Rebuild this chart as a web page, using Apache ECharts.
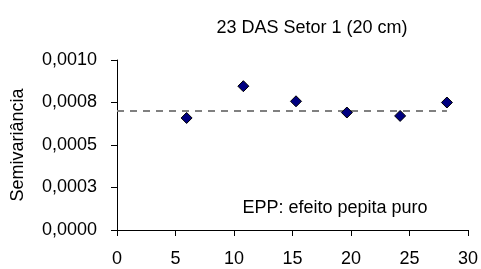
<!DOCTYPE html>
<html>
<head>
<meta charset="utf-8">
<script src="https://cdn.jsdelivr.net/npm/echarts@6/dist/echarts.min.js"></script>
<style>html,body{margin:0;padding:0;background:#fff;}#c{width:481px;height:269px;}</style>
</head>
<body>
<div id="c"></div>
<script>
var titleText = '23 DAS Setor 1 (20 cm)';
var yAxisName = 'Semivariância';
var noteText = 'EPP: efeito pepita puro';
var lagDistance = [5.95, 10.8, 15.3, 19.65, 24.2, 28.2];
var semivariance = [0.000659, 0.000846, 0.000757, 0.000691, 0.000671, 0.000750];
var nuggetLineX = [0, 28.2];
var nuggetValue = 0.0007;
var yTickLabels = ['0,0000', '0,0003', '0,0005', '0,0008', '0,0010'];
var xTickLabels = ['0', '5', '10', '15', '20', '25', '30'];

var FONT = 'Liberation Sans, Arial, sans-serif';
var chart = echarts.init(document.getElementById('c'), null, {renderer: 'canvas'});
chart.setOption({
  animation: false,
  backgroundColor: '#ffffff',
  grid: {left: 117, right: 13, top: 60, bottom: 39, containLabel: false},
  xAxis: {
    type: 'value', min: 0, max: 30, interval: 5,
    axisLine: {show: true, lineStyle: {color: '#000', width: 1}},
    axisTick: {show: true, length: 6, lineStyle: {color: '#000'}},
    splitLine: {show: false},
    axisLabel: {
      margin: 20, color: '#000', fontFamily: FONT, fontSize: 18,
      formatter: function (v) { return xTickLabels[Math.round(v / 5)]; }
    }
  },
  yAxis: {
    type: 'value', min: 0, max: 0.001, interval: 0.00025,
    name: yAxisName, nameLocation: 'middle', nameGap: 90, nameRotate: 90,
    nameTextStyle: {fontFamily: FONT, fontSize: 18, color: '#000'},
    axisLine: {show: true, lineStyle: {color: '#000', width: 1}},
    axisTick: {show: true, length: 6, lineStyle: {color: '#000'}},
    splitLine: {show: false},
    axisLabel: {
      margin: 20, color: '#000', fontFamily: FONT, fontSize: 18,
      formatter: function (v) { return yTickLabels[Math.round(v / 0.00025)]; }
    }
  },
  series: [
    {
      type: 'line',
      data: nuggetLineX.map(function (x) { return [x, nuggetValue]; }),
      symbol: 'none',
      lineStyle: {color: '#808080', width: 2, type: [7, 6]},
      silent: true, z: 1
    },
    {
      type: 'scatter',
      data: lagDistance.map(function (x, i) { return [x, semivariance[i]]; }),
      symbol: 'diamond',
      symbolSize: [11, 11],
      itemStyle: {color: '#000080', borderColor: '#000', borderWidth: 1, opacity: 1},
      z: 3
    }
  ],
  graphic: [
    {
      type: 'text', x: 312, y: 28,
      style: {text: titleText, fontFamily: FONT, fontSize: 18, fill: '#000', align: 'center', verticalAlign: 'middle'}
    },
    {
      type: 'text', x: 335, y: 208,
      style: {text: noteText, fontFamily: FONT, fontSize: 18, fill: '#000', align: 'center', verticalAlign: 'middle'}
    }
  ]
});
</script>
</body>
</html>
